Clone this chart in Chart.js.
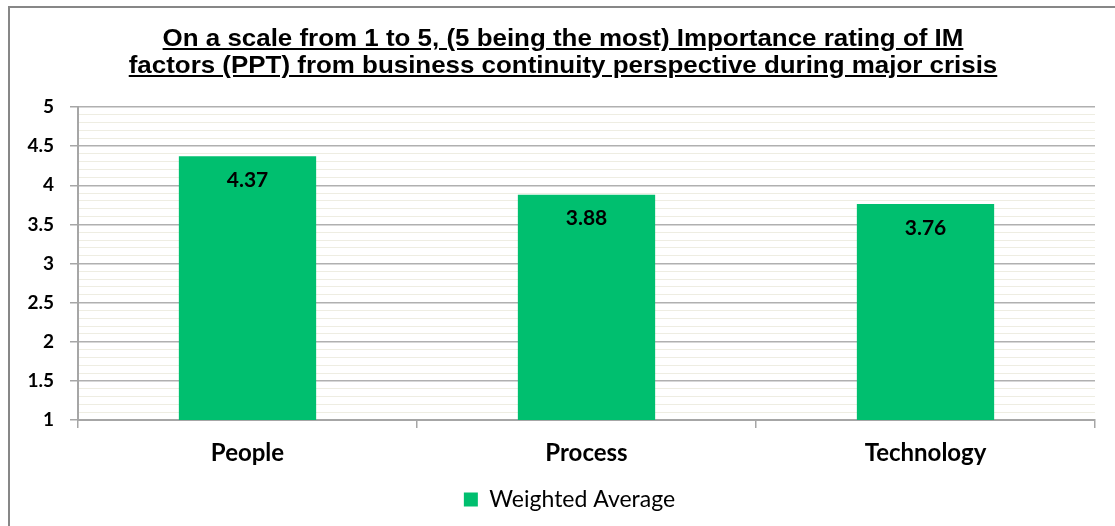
<!DOCTYPE html>
<html>
<head>
<meta charset="utf-8">
<script src="https://cdn.jsdelivr.net/npm/chart.js@4"></script>
<style>
  body { margin: 0; background: #fff; }
  #wrap { position: relative; width: 1115px; height: 526px; overflow: hidden; }
  #frame { position: absolute; left: 8px; top: 6px; width: 1200px; height: 600px;
           border-left: 2px solid #878787; border-top: 2px solid #878787; }
  #title { position: absolute; left: 10px; width: 1106px; top: 24px; text-align: center;
           font: bold 24px "Liberation Sans", Arial, sans-serif; line-height: 27px;
           text-decoration: underline; color: #000;
           transform: scaleX(1.08); transform-origin: 553px 0; }
  canvas { position: absolute; left: 0; top: 0; }
</style>
</head>
<body>
<div id="wrap">
  <div id="frame"></div>
  <canvas id="chart" width="1115" height="526"></canvas>
  <div id="title">On a scale from 1 to 5, (5 being the most) Importance rating of IM<br>factors (PPT) from business continuity perspective during major crisis</div>
</div>
<script>
let categories = ["People", "Process", "Technology"];
let weightedAverage = [4.37, 3.88, 3.76];
let seriesName = "Weighted Average";

function isMajor(v) {
  return Math.abs(v * 2 - Math.round(v * 2)) < 1e-6;
}

// value labels inside bars
const barLabels = {
  id: "barLabels",
  afterDatasetsDraw(chart) {
    let ctx = chart.ctx;
    let meta = chart.getDatasetMeta(0);
    ctx.save();
    ctx.font = "bold 21px Lato, sans-serif";
    ctx.fillStyle = "#000";
    ctx.textAlign = "center";
    ctx.textBaseline = "middle";
    meta.data.forEach((bar, i) => {
      ctx.fillText(weightedAverage[i].toFixed(2), bar.x, bar.y + 24);
    });
    ctx.restore();
  }
};

// centre the legend under the plot area rather than the whole canvas
const legendShift = {
  id: "legendShift",
  afterLayout(chart) {
    let lg = chart.legend;
    if (!lg) return;
    let dx = (chart.chartArea.left + chart.chartArea.right) / 2 - (lg.left + lg.right) / 2 - 17;
    lg.left += dx;
    lg.right += dx;
  }
};

let ctx = document.getElementById("chart").getContext("2d");
let chart = new Chart(ctx, {
  type: 'bar',
  data: {
    labels: categories,
    datasets: [{
      label: seriesName,
      data: weightedAverage,
      backgroundColor: "#00bf6f",
      borderWidth: 0,
      barPercentage: 0.405,
      categoryPercentage: 1
    }]
  },
  options: {
    responsive: false,
    animation: false,
    layout: { padding: { top: 107, right: 20, left: 0, bottom: 5 } },
    plugins: {
      title: { display: false },
      tooltip: { enabled: false },
      legend: {
        position: 'bottom',
        labels: {
          color: "#000",
          font: { family: "Lato", size: 23 },
          boxWidth: 14,
          boxHeight: 14,
          padding: 8
        }
      }
    },
    scales: {
      x: {
        offset: true,
        grid: {
          offset: true,
          drawOnChartArea: false,
          drawTicks: true,
          tickLength: 8,
          color: "#a6a6a6",
          lineWidth: 1.5
        },
        border: { color: "#a6a6a6", width: 2 },
        ticks: {
          color: "#000",
          padding: 11,
          font: { family: "Lato", size: 24, weight: "bold" }
        },
        afterFit(scale) { scale.height = 60; }
      },
      y: {
        min: 1,
        max: 5,
        ticks: {
          stepSize: 0.1,
          maxTicksLimit: 100,
          autoSkip: false,
          color: "#000",
          padding: 16,
          font: { family: "Lato", size: 19, weight: "bold" },
          callback: function (v) {
            return isMajor(v) ? String(Math.round(v * 2) / 2) : "";
          }
        },
        grid: {
          tickLength: 8,
          color: c => isMajor(c.tick.value) ? "#b0b0b0" : "#eeede2",
          lineWidth: c => isMajor(c.tick.value) ? 1.5 : 1,
          tickColor: c => isMajor(c.tick.value) ? "#a6a6a6" : "rgba(0,0,0,0)"
        },
        border: { color: "#a6a6a6", width: 2 },
        afterFit(scale) { scale.width = 78; }
      }
    }
  },
  plugins: [barLabels, legendShift]
});
</script>
</body>
</html>
